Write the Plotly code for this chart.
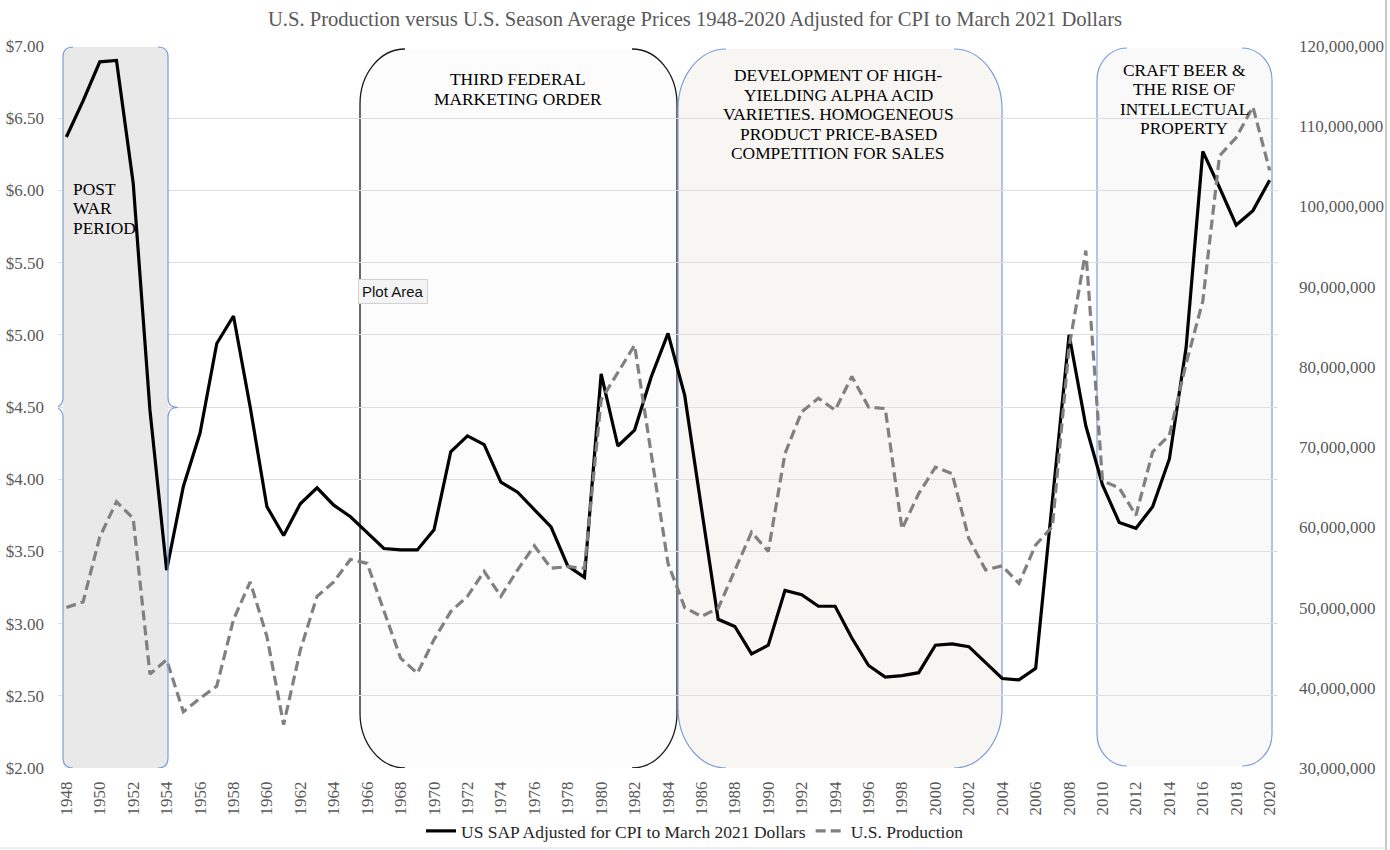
import plotly.graph_objects as go

# ---------------- data ----------------
years = list(range(1948, 2021))

sap_price = [
    6.37, 6.62, 6.89, 6.90, 6.05, 4.48, 3.37, 3.95, 4.32, 4.94,   # 1948-1957
    5.13, 4.50, 3.81, 3.61, 3.83, 3.94, 3.82, 3.74, 3.63, 3.52,   # 1958-1967
    3.51, 3.51, 3.65, 4.19, 4.30, 4.24, 3.98, 3.91, 3.79, 3.67,   # 1968-1977
    3.40, 3.32, 4.73, 4.23, 4.34, 4.71, 5.01, 4.58, 3.80, 3.03,   # 1978-1987
    2.98, 2.79, 2.85, 3.23, 3.20, 3.12, 3.12, 2.90, 2.71, 2.63,   # 1988-1997
    2.64, 2.66, 2.85, 2.86, 2.84, 2.73, 2.62, 2.61, 2.69, 3.85,   # 1998-2007
    5.00, 4.37, 3.96, 3.70, 3.66, 3.81, 4.14, 4.91, 6.27, 6.02,   # 2008-2017
    5.76, 5.86, 6.07,                                             # 2018-2020
]

production_millions = [
    50.0, 50.7, 58.8, 63.2, 61.1, 41.7, 43.5, 37.0, 38.7, 40.2,   # 1948-1957
    48.5, 53.2, 46.4, 35.4, 44.7, 51.4, 53.2, 56.0, 55.5, 49.6,   # 1958-1967
    43.7, 41.8, 46.0, 49.5, 51.4, 54.5, 51.4, 54.7, 57.7, 54.9,   # 1968-1977
    55.1, 54.9, 75.9, 79.3, 82.7, 69.1, 55.5, 50.0, 48.9, 49.9,   # 1978-1987
    54.7, 59.4, 57.0, 69.2, 74.4, 76.1, 74.6, 78.8, 75.0, 74.8,   # 1988-1997
    59.8, 64.2, 67.5, 66.7, 58.6, 54.7, 55.2, 53.0, 57.8, 60.1,   # 1998-2007
    82.5, 94.5, 65.8, 64.9, 61.5, 69.4, 71.5, 80.4, 88.2, 106.3,  # 2008-2017
    108.6, 112.4, 104.5,                                          # 2018-2020
]
production = [v * 1_000_000 for v in production_millions]

x_tick_years = years[::2]
x_tick_labels = [str(y) for y in x_tick_years]

price_series_name = "US SAP Adjusted for CPI to March 2021 Dollars"
production_series_name = "U.S. Production"

title_text = ("U.S. Production versus U.S. Season Average Prices 1948-2020 "
              "Adjusted for CPI to March 2021 Dollars")

post_war_lines = ["POST", "WAR", "PERIOD"]
third_order_lines = ["THIRD FEDERAL", "MARKETING ORDER"]
development_lines = ["DEVELOPMENT OF HIGH-", "YIELDING ALPHA ACID",
                     "VARIETIES. HOMOGENEOUS", "PRODUCT PRICE-BASED",
                     "COMPETITION FOR SALES"]
craft_lines = ["CRAFT BEER &amp;", "THE RISE OF", "INTELLECTUAL", "PROPERTY"]

# ---------------- geometry helpers (pixel layout -> axis units) ----------------
W, H = 1390, 850
PL, PR, PT, PB = 58, 1278, 46, 768           # plot area in pixels
X_MIN, X_MAX = 1947.5, 2020.5
Y_MIN, Y_MAX = 2.0, 7.0
PX_PER_X = (PR - PL) / (X_MAX - X_MIN)
PX_PER_Y = (PB - PT) / (Y_MAX - Y_MIN)


def X(px):
    return X_MIN + (px - PL) / PX_PER_X


def Y(py):
    return Y_MAX - (py - PT) / PX_PER_Y


def P(px, py):
    return f"{X(px):.4f},{Y(py):.4f}"


K = 0.5523


def rounded_fill(x0, x1, top, bot, rx, ry):
    return (f"M{P(x0+rx, top)} L{P(x1-rx, top)} "
            f"C{P(x1-rx+K*rx, top)} {P(x1, top+ry-K*ry)} {P(x1, top+ry)} "
            f"L{P(x1, bot-ry)} "
            f"C{P(x1, bot-ry+K*ry)} {P(x1-rx+K*rx, bot)} {P(x1-rx, bot)} "
            f"L{P(x0+rx, bot)} "
            f"C{P(x0+rx-K*rx, bot)} {P(x0, bot-ry+K*ry)} {P(x0, bot-ry)} "
            f"L{P(x0, top+ry)} "
            f"C{P(x0, top+ry-K*ry)} {P(x0+rx-K*rx, top)} {P(x0+rx, top)} Z")


def bracket_pair(x0, x1, top, bot, rx, ry):
    left = (f"M{P(x0+rx, top)} C{P(x0+rx-K*rx, top)} {P(x0, top+ry-K*ry)} {P(x0, top+ry)} "
            f"L{P(x0, bot-ry)} C{P(x0, bot-ry+K*ry)} {P(x0+rx-K*rx, bot)} {P(x0+rx, bot)}")
    right = (f"M{P(x1-rx, top)} C{P(x1-rx+K*rx, top)} {P(x1, top+ry-K*ry)} {P(x1, top+ry)} "
             f"L{P(x1, bot-ry)} C{P(x1, bot-ry+K*ry)} {P(x1-rx+K*rx, bot)} {P(x1-rx, bot)}")
    return left + " " + right


def brace_pair(x0, x1, top, bot, r):
    mid = (top + bot) / 2
    left = (f"M{P(x0+r, top)} Q{P(x0, top)} {P(x0, top+r)} L{P(x0, mid-r)} "
            f"Q{P(x0, mid)} {P(x0-r, mid)} Q{P(x0, mid)} {P(x0, mid+r)} "
            f"L{P(x0, bot-r)} Q{P(x0, bot)} {P(x0+r, bot)}")
    right = (f"M{P(x1-r, top)} Q{P(x1, top)} {P(x1, top+r)} L{P(x1, mid-r)} "
             f"Q{P(x1, mid)} {P(x1+r, mid)} Q{P(x1, mid)} {P(x1, mid+r)} "
             f"L{P(x1, bot-r)} Q{P(x1, bot)} {P(x1-r, bot)}")
    return left + " " + right


SERIF = "Liberation Serif, Times New Roman, serif"
AXIS_GRAY = "#595959"
BLUE = "#7c9ed8"
NOTE_SIZE = 17.4

fig = go.Figure()

fig.add_trace(go.Scatter(
    x=years, y=sap_price, mode="lines", name=price_series_name,
    line=dict(color="#000000", width=3.2), yaxis="y",
))
fig.add_trace(go.Scatter(
    x=years, y=production, mode="lines", name=production_series_name,
    line=dict(color="#808080", width=3.2, dash="10px,5px"), yaxis="y2",
))

shapes = []
# Post war period (double brace, gray fill)
shapes.append(dict(type="path", xref="x", yref="y", layer="between",
                   path=rounded_fill(63, 168, 47, 768, 9, 9),
                   fillcolor="#e9e9e9", line=dict(width=0)))
shapes.append(dict(type="path", xref="x", yref="y", layer="above",
                   path=brace_pair(63, 168, 47, 768, 10),
                   line=dict(color=BLUE, width=1.2)))
# Third federal marketing order (double bracket, black)
shapes.append(dict(type="path", xref="x", yref="y", layer="below",
                   path=rounded_fill(360, 677, 49, 768, 45, 55),
                   fillcolor="#fcfcfc", line=dict(width=0)))
shapes.append(dict(type="path", xref="x", yref="y", layer="below",
                   path=bracket_pair(360, 677, 49, 768, 45, 55),
                   line=dict(color="#1a1a1a", width=1.3)))
# Development of high-yielding varieties (double bracket, blue)
shapes.append(dict(type="path", xref="x", yref="y", layer="below",
                   path=rounded_fill(678, 1002, 49, 768, 48, 60),
                   fillcolor="#f7f6f3", line=dict(width=0)))
shapes.append(dict(type="path", xref="x", yref="y", layer="below",
                   path=bracket_pair(678, 1002, 49, 768, 48, 60),
                   line=dict(color=BLUE, width=1.2)))
# Craft beer (double bracket, blue)
shapes.append(dict(type="path", xref="x", yref="y", layer="below",
                   path=rounded_fill(1097, 1272, 48, 766, 30, 32),
                   fillcolor="#f9f9f9", line=dict(width=0)))
shapes.append(dict(type="path", xref="x", yref="y", layer="below",
                   path=bracket_pair(1097, 1272, 48, 766, 30, 32),
                   line=dict(color=BLUE, width=1.2)))
# window edges of the screenshot
shapes.append(dict(type="line", xref="paper", yref="paper",
                   x0=(1386 - PL) / (PR - PL), x1=(1386 - PL) / (PR - PL),
                   y0=(PB - 0) / (PB - PT), y1=(PB - 850) / (PB - PT),
                   line=dict(color="#b5b5b5", width=1.5)))
shapes.append(dict(type="line", xref="paper", yref="paper",
                   x0=(0 - PL) / (PR - PL), x1=(1386 - PL) / (PR - PL),
                   y0=(PB - 848) / (PB - PT), y1=(PB - 848) / (PB - PT),
                   line=dict(color="#dcdcdc", width=1)))

annotations = []


def add_lines(lines, px, first_py, step, anchor):
    for i, txt in enumerate(lines):
        annotations.append(dict(
            text=txt, x=X(px), y=Y(first_py + i * step), xref="x", yref="y",
            xanchor=anchor, yanchor="middle", showarrow=False,
            font=dict(family=SERIF, size=NOTE_SIZE, color="#000000")))


add_lines(post_war_lines, 71, 189, 19.3, "left")
add_lines(third_order_lines, 518, 79, 19.5, "center")
add_lines(development_lines, 838, 75, 19.5, "center")
add_lines(craft_lines, 1184, 70, 19.3, "center")

annotations.append(dict(
    text="Plot Area", x=X(393), y=Y(291), xref="x", yref="y",
    xanchor="center", yanchor="middle", showarrow=False,
    bgcolor="#f4f4f4", bordercolor="#d2d2d2", borderwidth=1, borderpad=3,
    font=dict(family="Liberation Sans, Arial, sans-serif", size=15, color="#111111")))

fig.update_layout(
    width=W, height=H,
    margin=dict(l=PL, r=W - PR, t=PT, b=H - PB, autoexpand=False),
    paper_bgcolor="#ffffff", plot_bgcolor="#ffffff",
    title=dict(text=title_text, x=0.5, xanchor="center", xref="container",
               y=1 - 19 / H, yanchor="middle", yref="container",
               font=dict(family=SERIF, size=20.6, color=AXIS_GRAY)),
    xaxis=dict(range=[X_MIN, X_MAX], tickmode="array", tickvals=x_tick_years,
               ticktext=x_tick_labels, tickangle=-90, showgrid=False,
               zeroline=False, showline=False, ticks="", ticklabelstandoff=9,
               automargin=False,
               tickfont=dict(family=SERIF, size=17, color=AXIS_GRAY)),
    yaxis=dict(range=[Y_MIN, Y_MAX], dtick=0.5, tick0=2, tickformat="$.2f",
               showgrid=True, gridcolor="#dedede", gridwidth=1,
               zeroline=False, showline=False, ticks="", ticklabelstandoff=13,
               automargin=False,
               tickfont=dict(family=SERIF, size=17, color=AXIS_GRAY)),
    yaxis2=dict(range=[30_000_000, 120_000_000], dtick=10_000_000, tick0=30_000_000,
                tickformat=",.0f", overlaying="y", side="right", showgrid=False,
                zeroline=False, showline=False, ticks="", ticklabelstandoff=20,
                automargin=False,
                tickfont=dict(family=SERIF, size=17, color=AXIS_GRAY)),
    legend=dict(orientation="h", x=0.5, xanchor="center", xref="container",
                y=1 - 831 / H, yanchor="middle", yref="container",
                font=dict(family=SERIF, size=17.5, color="#262626"),
                bgcolor="rgba(0,0,0,0)", itemwidth=30),
    shapes=shapes,
    annotations=annotations,
    showlegend=True,
)

fig.write_html("out.html")
